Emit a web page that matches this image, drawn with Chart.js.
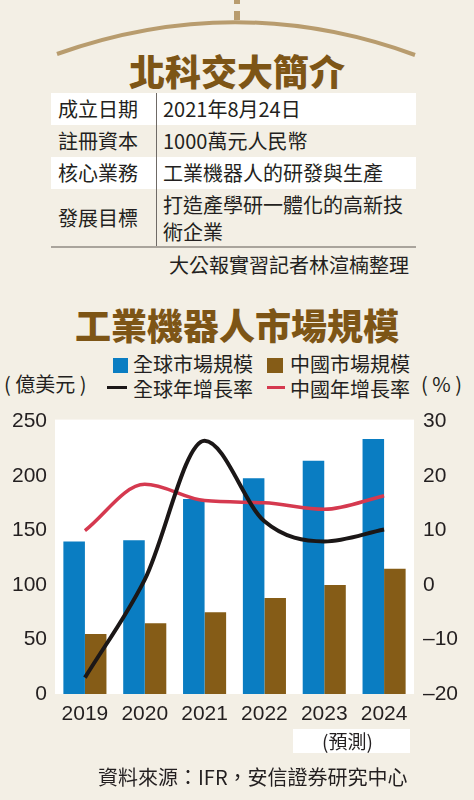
<!DOCTYPE html>
<html>
<head>
<meta charset="utf-8">
<script src="https://cdn.jsdelivr.net/npm/chart.js@4.4.0/dist/chart.umd.min.js"></script>
<style>
  body { margin:0; background:#f3efe5; font-family:"Noto Sans CJK TC","Noto Sans",sans-serif; color:#231f20; }
  #page { position:relative; width:474px; height:800px; overflow:hidden; }
  .abs { position:absolute; white-space:nowrap; }
  .title { left:0; width:474px; text-align:center; font-size:36px; font-weight:900; color:#7d5516; line-height:40px; }
  .row { position:absolute; left:51px; width:365px; }
  .row.w { background:#fff; }
  .cell1 { position:absolute; left:7px; font-size:20px; line-height:26px; }
  .cell2 { position:absolute; left:112px; font-size:20px; line-height:27px; }
  .leg { font-size:20px; line-height:26px; }
  .sw { position:absolute; }
</style>
</head>
<body>
<div id="page">
  <svg class="abs" style="left:0;top:0" width="474" height="70">
    <rect x="234" y="0" width="6" height="4" fill="#b89c6e"/>
    <rect x="234" y="11" width="6" height="9" fill="#b89c6e"/>
    <path d="M57 54 Q237 -10 415 55" stroke="#b89c6e" stroke-width="4" fill="none"/>
  </svg>
  <div class="abs title" style="top:50px">北科交大簡介</div>

  <div class="row w" style="top:93px;height:32px"><span class="cell1" style="top:3px">成立日期</span><span class="cell2" style="top:2px">2021年8月24日</span></div>
  <div class="row" style="top:125px;height:32px"><span class="cell1" style="top:3px">註冊資本</span><span class="cell2" style="top:2px">1000萬元人民幣</span></div>
  <div class="row w" style="top:157px;height:32px"><span class="cell1" style="top:3px">核心業務</span><span class="cell2" style="top:2px">工業機器人的研發與生產</span></div>
  <div class="row" style="top:189px;height:58px"><span class="cell1" style="top:16px">發展目標</span><span class="cell2" style="top:2px">打造產學研一體化的高新技<br>術企業</span></div>
  <div class="abs" style="left:156px;top:93px;width:1px;height:155px;background:#6f6a66"></div>
  <div class="abs" style="left:51px;top:246px;width:365px;height:2px;background:#a9a49c"></div>
  <div class="abs" style="right:65px;top:252px;font-size:20px;line-height:26px">大公報實習記者林渲楠整理</div>

  <div class="abs title" style="top:304px">工業機器人市場規模</div>

  <div class="sw" style="left:113px;top:358px;width:15px;height:15px;background:#0a7dc2"></div>
  <div class="abs leg" style="left:133px;top:351px">全球市場規模</div>
  <div class="sw" style="left:267px;top:358px;width:16px;height:15px;background:#855c17"></div>
  <div class="abs leg" style="left:290px;top:351px">中國市場規模</div>
  <div class="sw" style="left:107px;top:386px;width:20px;height:3px;background:#1b1717"></div>
  <div class="abs leg" style="left:133px;top:376px">全球年增長率</div>
  <div class="sw" style="left:267px;top:386px;width:18px;height:3px;background:#d5394f"></div>
  <div class="abs leg" style="left:290px;top:376px">中國年增長率</div>
  <div class="abs" style="left:4px;top:371px;font-size:20px;line-height:26px">( 億美元 )</div>
  <div class="abs" style="left:421px;top:371px;font-size:20px;line-height:26px">( % )</div>

  <div class="abs" style="left:0;top:400px;width:474px;height:340px"><canvas id="chart" width="474" height="340" style="width:474px;height:340px"></canvas></div>

  <div class="abs" style="left:293px;top:729px;width:117px;height:24px;background:#fff"></div>
  <div class="abs" style="left:322px;top:728px;font-size:19px;line-height:26px">(預測)</div>
  <div class="abs" style="left:98px;top:764px;font-size:20px;line-height:26px">資料來源：IFR，安信證券研究中心</div>
</div>

<script>
// 年份
var years = ['2019', '2020', '2021', '2022', '2023', '2024'];
// 億美元
var globalMarket = [140, 141, 179, 198, 214, 234];
var chinaMarket = [55, 65, 75, 88, 100, 115];
// %
var globalGrowth = [-17, 1, 26.5, 11.7, 8, 10.2];
var chinaGrowth = [10, 18.5, 15.5, 15.1, 13.9, 16.4];

var leftTicks = { min: 0, max: 250, step: 50 };
var rightTicks = { min: -20, max: 30, step: 10 };

var tickFont = { family: 'Liberation Sans', size: 21 };

var whiteArea = {
  id: 'whiteArea',
  beforeDraw(chart) {
    var a = chart.chartArea;
    var ctx = chart.ctx;
    ctx.save();
    ctx.fillStyle = '#ffffff';
    ctx.fillRect(a.left, a.top - 2, a.right - a.left, a.bottom - a.top + 2);
    ctx.restore();
  }
};

new Chart(document.getElementById('chart'), {
  data: {
    labels: years,
    datasets: [
      {
        type: 'line', label: '全球年增長率', data: globalGrowth, yAxisID: 'y1',
        borderColor: '#1b1717', borderWidth: 4, pointRadius: 0,
        cubicInterpolationMode: 'monotone', order: 0
      },
      {
        type: 'line', label: '中國年增長率', data: chinaGrowth, yAxisID: 'y1',
        borderColor: '#d5394f', borderWidth: 3.5, pointRadius: 0,
        cubicInterpolationMode: 'monotone', order: 1
      },
      {
        type: 'bar', label: '全球市場規模', data: globalMarket, yAxisID: 'y',
        backgroundColor: '#0a7dc2', order: 2,
        barPercentage: 1, categoryPercentage: 0.72
      },
      {
        type: 'bar', label: '中國市場規模', data: chinaMarket, yAxisID: 'y',
        backgroundColor: '#855c17', order: 2,
        barPercentage: 1, categoryPercentage: 0.72
      }
    ]
  },
  options: {
    responsive: false,
    animation: false,
    layout: { padding: { top: 14, left: 0, right: 0, bottom: 0 } },
    plugins: { legend: { display: false }, tooltip: { enabled: false } },
    scales: {
      x: {
        grid: { display: false, drawTicks: false },
        border: { display: false },
        ticks: { font: tickFont, color: '#231f20', padding: 8 },
        afterFit(s) { s.height = 46; }
      },
      y: {
        position: 'left',
        min: leftTicks.min, max: leftTicks.max,
        grid: { display: false, drawTicks: false },
        border: { display: false },
        ticks: { stepSize: leftTicks.step, font: tickFont, color: '#231f20', padding: 8 },
        afterFit(s) { s.width = 55; }
      },
      y1: {
        position: 'right',
        min: rightTicks.min, max: rightTicks.max,
        grid: { display: false, drawTicks: false },
        border: { display: false },
        ticks: {
          stepSize: rightTicks.step, font: tickFont, color: '#231f20', padding: 9,
          callback: v => String(v).replace('-', '\u2013')
        },
        afterFit(s) { s.width = 60; }
      }
    }
  },
  plugins: [whiteArea]
});
</script>
</body>
</html>
